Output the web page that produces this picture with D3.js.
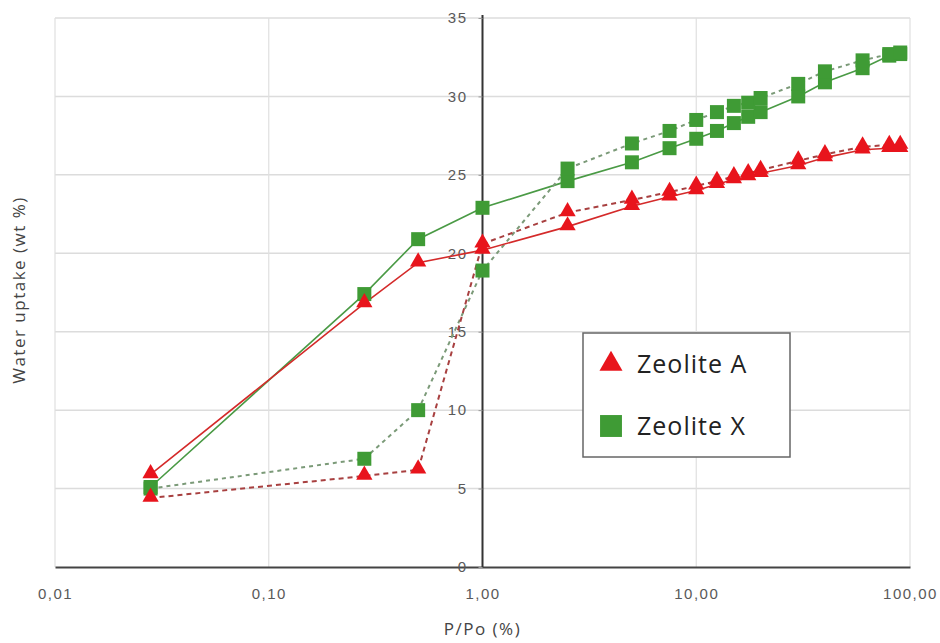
<!DOCTYPE html>
<html>
<head>
<meta charset="utf-8">
<script src="https://cdn.jsdelivr.net/npm/d3@7"></script>
<style>
  body { margin: 0; background: #fff; font-family: "Open Sans", "DejaVu Sans", sans-serif; }
  .tick text { fill: #595959; font-size: 15px; letter-spacing: 1.5px; }
</style>
</head>
<body>
<svg id="chart" width="940" height="643"></svg>
<script>
// P/Po (%) values, shared by all series
const pressure = [0.028, 0.28, 0.5, 1, 2.5, 5, 7.5, 10, 12.5, 15, 17.5, 20, 30, 40, 60, 80, 90];

// Zeolite A (triangles) - adsorption (solid) / desorption (dashed)
const zeoliteA_ads = [5.9, 16.8, 19.4, 20.2, 21.7, 23.0, 23.6, 24.0, 24.4, 24.7, 24.9, 25.1, 25.6, 26.1, 26.6, 26.7, 26.7];
const zeoliteA_des = [4.4, 5.8, 6.2, 20.6, 22.6, 23.4, 23.9, 24.3, 24.6, 24.9, 25.1, 25.3, 25.9, 26.3, 26.8, 26.9, 26.9];

// Zeolite X (squares)
const zeoliteX_ads = [5.1, 17.4, 20.9, 22.9, 24.6, 25.8, 26.7, 27.3, 27.8, 28.3, 28.7, 29.0, 30.0, 30.9, 31.8, 32.6, 32.7];
const zeoliteX_des = [5.0, 6.9, 10.0, 18.9, 25.4, 27.0, 27.8, 28.5, 29.0, 29.4, 29.6, 29.9, 30.8, 31.6, 32.3, 32.7, 32.8];

const xTicks = [0.01, 0.1, 1, 10, 100];
const xTickLabels = ["0,01", "0,10", "1,00", "10,00", "100,00"];
const yTicks = [0, 5, 10, 15, 20, 25, 30, 35];

const legendNames = ["Zeolite A", "Zeolite X"];

const margin = {top: 18, right: 30, bottom: 76, left: 55};
const width = 940 - margin.left - margin.right;
const height = 643 - margin.top - margin.bottom;

const redMark = "#e8141c", redLine = "#d42a2a", redDash = "#a84040";
const greenMark = "#3f9b35", greenLine = "#4a9a45", greenDash = "#7b9a78";

const svg = d3.select("#chart")
  .append("g")
  .attr("transform", `translate(${margin.left},${margin.top})`);

const x = d3.scaleLog().domain([0.01, 100]).range([0, width]);
const y = d3.scaleLinear().domain([0, 35]).range([height, 0]);

// gridlines
svg.append("g")
  .selectAll("line")
  .data(yTicks.filter(d => d > 0))
  .enter().append("line")
  .attr("x1", 0).attr("x2", width)
  .attr("y1", d => y(d)).attr("y2", d => y(d))
  .attr("stroke", "#dcdcdc").attr("stroke-width", 1.5);

svg.append("g")
  .selectAll("line")
  .data(xTicks.filter(d => d !== 1))
  .enter().append("line")
  .attr("x1", d => x(d)).attr("x2", d => x(d))
  .attr("y1", 0).attr("y2", height)
  .attr("stroke", "#e0e0e0").attr("stroke-width", 1.2);

// x axis along y = 0
const xAxis = svg.append("g")
  .attr("transform", `translate(0,${height})`)
  .call(d3.axisBottom(x).tickValues(xTicks).tickFormat((d, i) => xTickLabels[i]).tickSize(0).tickPadding(21));
xAxis.select(".domain").attr("stroke", "#444").attr("stroke-width", 2);

// y axis crossing at P/Po = 1
const yAxis = svg.append("g")
  .attr("transform", `translate(${x(1)},0)`)
  .call(d3.axisLeft(y).tickValues(yTicks).tickSize(4).tickPadding(11));
yAxis.select(".domain").attr("stroke", "#333").attr("stroke-width", 2)
  .attr("d", `M0,${height}V-3`);
yAxis.selectAll(".tick line").attr("stroke", "#999");

// lines
const series = [
  {vals: zeoliteX_ads, color: greenLine, dash: null, w: 1.6},
  {vals: zeoliteX_des, color: greenDash, dash: "4,4", w: 2},
  {vals: zeoliteA_ads, color: redLine, dash: null, w: 1.6},
  {vals: zeoliteA_des, color: redDash, dash: "5,4", w: 2}
];

const line = d3.line()
  .x((d, i) => x(pressure[i]))
  .y(d => y(d));

series.forEach(s => {
  svg.append("path")
    .datum(s.vals)
    .attr("d", line)
    .attr("fill", "none")
    .attr("stroke", s.color)
    .attr("stroke-width", s.w)
    .attr("stroke-dasharray", s.dash);
});

// markers
const square = d3.symbol().type(d3.symbolSquare).size(196);
const triangle = d3.symbol().type(d3.symbolTriangle).size(115);

[zeoliteX_ads, zeoliteX_des].forEach(vals => {
  svg.append("g").selectAll("path")
    .data(vals)
    .enter().append("path")
    .attr("d", square)
    .attr("transform", (d, i) => `translate(${x(pressure[i])},${y(d)})`)
    .attr("fill", greenMark);
});

[zeoliteA_ads, zeoliteA_des].forEach(vals => {
  svg.append("g").selectAll("path")
    .data(vals)
    .enter().append("path")
    .attr("d", triangle)
    .attr("transform", (d, i) => `translate(${x(pressure[i])},${y(d) - 1})`)
    .attr("fill", redMark);
});

// axis titles
svg.append("text")
  .attr("x", x(1))
  .attr("y", height + 68)
  .attr("text-anchor", "middle")
  .attr("fill", "#444")
  .style("font-size", "17px")
  .style("letter-spacing", "1.5px")
  .text("P/Po (%)");

svg.append("text")
  .attr("transform", "rotate(-90)")
  .attr("x", -(290 - margin.top))
  .attr("y", -30)
  .attr("text-anchor", "middle")
  .attr("fill", "#444")
  .style("font-size", "17px")
  .style("letter-spacing", "1.5px")
  .text("Water uptake (wt %)");

// legend
const legend = svg.append("g")
  .attr("transform", `translate(${583 - margin.left},${333 - margin.top})`);

legend.append("rect")
  .attr("width", 207).attr("height", 124)
  .attr("fill", "#fff")
  .attr("stroke", "#666").attr("stroke-width", 1.5);

const legendSym = [
  d3.symbol().type(d3.symbolTriangle).size(230),
  d3.symbol().type(d3.symbolSquare).size(480)
];
const legendCol = [redMark, greenMark];

legendNames.forEach((name, i) => {
  const gy = 31 + i * 62;
  legend.append("path")
    .attr("d", legendSym[i])
    .attr("transform", `translate(28,${gy})`)
    .attr("fill", legendCol[i]);
  legend.append("text")
    .attr("x", 54)
    .attr("y", gy + 9)
    .attr("fill", "#222")
    .style("font-size", "25px")
    .style("letter-spacing", "1px")
    .text(name);
});
</script>
</body>
</html>
